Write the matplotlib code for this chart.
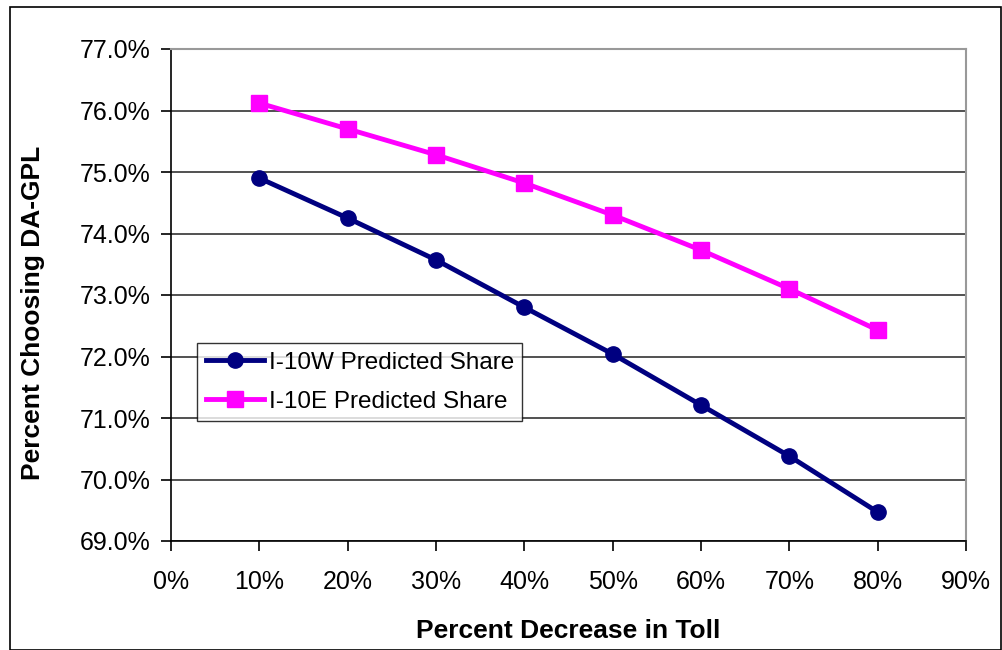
import matplotlib.pyplot as plt
from matplotlib.ticker import FuncFormatter
from matplotlib.patches import Rectangle

plt.rcParams['font.family'] = ['Liberation Sans', 'DejaVu Sans']

decrease = [10, 20, 30, 40, 50, 60, 70, 80]
share_w = [74.90, 74.25, 73.57, 72.80, 72.04, 71.21, 70.38, 69.47]
share_e = [76.12, 75.70, 75.28, 74.82, 74.30, 73.73, 73.10, 72.43]

fig = plt.figure(figsize=(10.03, 6.5), dpi=100)
ax = fig.add_axes([171 / 1003, 1 - 541 / 650, (966 - 171) / 1003, (541 - 49) / 650])

ax.plot(decrease, share_w, color='#000080', lw=3.5, marker='o', ms=11,
        label='I-10W Predicted Share')
ax.plot(decrease, share_e, color='#ff00ff', lw=3.5, marker='s', ms=11,
        label='I-10E Predicted Share')

ax.set_xlim(0, 90)
ax.set_ylim(69, 77)
ax.set_xticks(range(0, 91, 10))
ax.set_yticks(range(69, 78))
ax.xaxis.set_major_formatter(FuncFormatter(lambda v, p: f'{v:.0f}%'))
ax.yaxis.set_major_formatter(FuncFormatter(lambda v, p: f'{v:.1f}%'))
ax.grid(axis='y', color='#333333', lw=1.2)
ax.set_axisbelow(True)
ax.tick_params(labelsize=18, length=7, width=1.2, direction='out')
ax.tick_params(axis='x', pad=14)
ax.tick_params(axis='y', pad=8)

for side in ['left', 'bottom']:
    ax.spines[side].set_color('black')
    ax.spines[side].set_linewidth(1.2)
for side in ['top', 'right']:
    ax.spines[side].set_color('#999999')
    ax.spines[side].set_linewidth(1.5)

ax.set_xlabel('Percent Decrease in Toll', fontsize=19, fontweight='bold', labelpad=18)
ax.set_ylabel('Percent Choosing DA-GPL', fontsize=19, fontweight='bold', labelpad=25)
ax.yaxis.label.set_y(1 - (313 - 49) / 492)

leg = ax.legend(loc='upper left', bbox_to_anchor=((197 - 171) / 795, 1 - (343 - 49) / 492),
                fontsize=17.5, frameon=True, fancybox=False, edgecolor='black',
                handlelength=2.4, borderpad=0.35, labelspacing=0.7, handletextpad=0.2,
                borderaxespad=0)
leg.get_frame().set_linewidth(1.0)

fig.patches.append(Rectangle((10 / 1003, 0), 1 - 12 / 1003, 1 - 7 / 650,
                             transform=fig.transFigure, fill=False,
                             edgecolor='black', lw=1.2))

fig.savefig('out.png', dpi=100)
